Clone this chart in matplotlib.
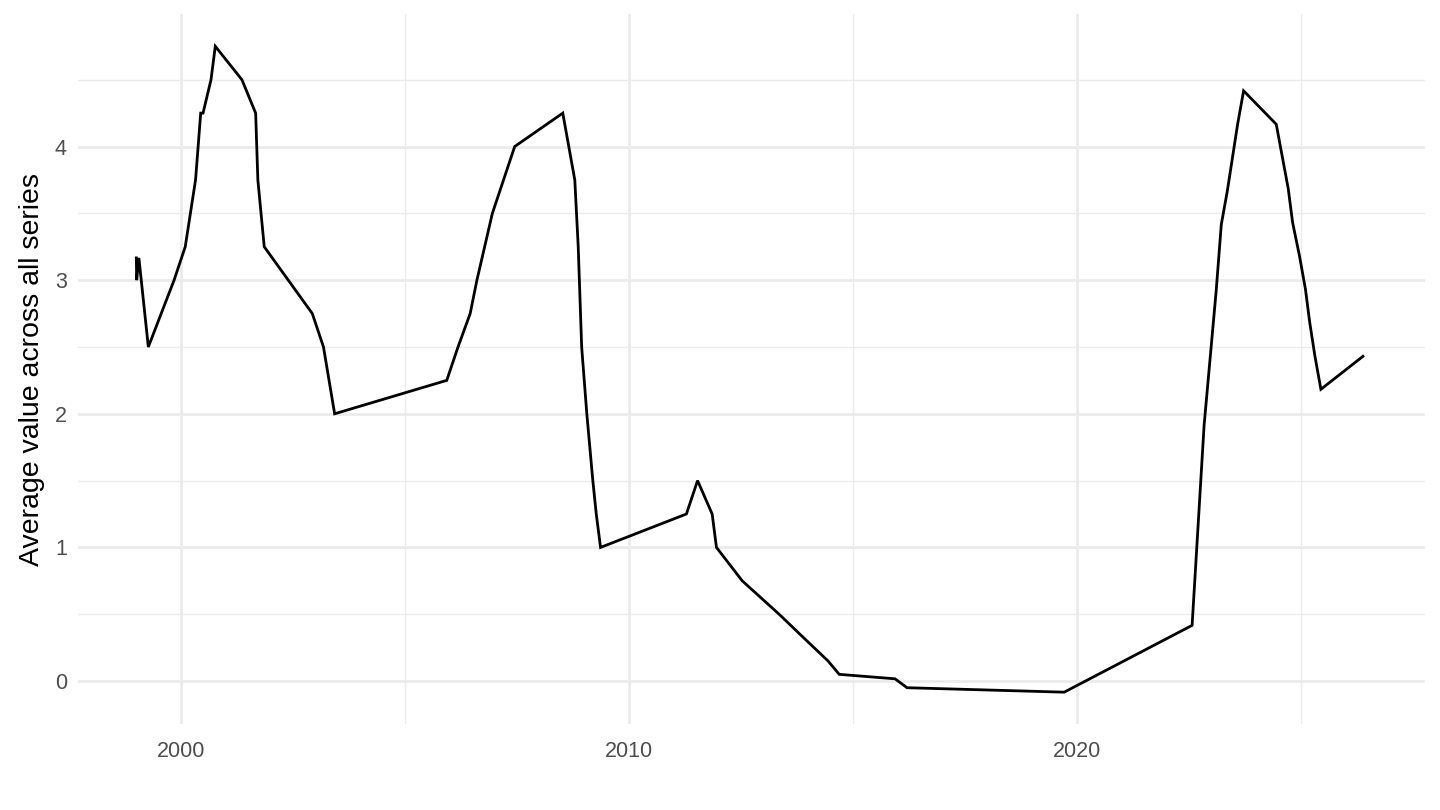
import matplotlib
matplotlib.use("Agg")
import matplotlib.pyplot as plt
import matplotlib.dates as mdates
from matplotlib.ticker import MultipleLocator
import pandas as pd

plt.rcParams["font.family"] = ["Liberation Sans", "DejaVu Sans"]

dates = [
    "1999-01-01", "1999-01-04", "1999-01-22", "1999-04-09", "1999-11-05",
    "2000-02-04", "2000-03-17", "2000-04-28", "2000-06-09", "2000-06-28",
    "2000-09-01", "2000-10-06", "2001-05-11", "2001-08-31", "2001-09-18",
    "2001-11-09", "2002-12-06", "2003-03-07", "2003-06-06", "2005-12-06",
    "2006-03-08", "2006-06-15", "2006-08-09", "2006-10-11", "2006-12-13",
    "2007-03-14", "2007-06-13", "2008-07-09", "2008-10-15",
    "2008-11-12", "2008-12-10", "2009-01-21", "2009-03-11", "2009-04-08",
    "2009-05-13", "2011-04-13", "2011-07-13", "2011-11-09", "2011-12-14",
    "2012-07-11", "2013-05-08", "2013-11-13", "2014-06-11", "2014-09-10",
    "2015-12-09", "2016-03-16", "2019-09-18", "2022-07-27", "2022-09-14",
    "2022-11-02", "2022-12-21", "2023-02-08", "2023-03-22", "2023-05-10",
    "2023-06-21", "2023-08-02", "2023-09-20", "2024-06-12", "2024-09-18",
    "2024-10-23", "2024-12-18", "2025-02-05", "2025-03-12", "2025-04-23",
    "2025-06-11", "2026-05-20",
]
values = [
    3.1667, 3.0, 3.1667, 2.5, 3.0,
    3.25, 3.5, 3.75, 4.25, 4.25,
    4.5, 4.75, 4.5, 4.25, 3.75,
    3.25, 2.75, 2.5, 2.0, 2.25,
    2.5, 2.75, 3.0, 3.25, 3.5,
    3.75, 4.0, 4.25, 3.75,
    3.25, 2.5, 2.0, 1.5, 1.25,
    1.0, 1.25, 1.5, 1.25, 1.0,
    0.75, 0.5, 0.3333, 0.15, 0.05,
    0.0167, -0.05, -0.0833, 0.4167, 1.1667,
    1.9167, 2.4167, 2.9167, 3.4167, 3.6667,
    3.9167, 4.1667, 4.4167, 4.1667, 3.6833,
    3.4333, 3.1833, 2.9333, 2.6833, 2.4333,
    2.1833, 2.43,
]
y_label = "Average value across all series"

x = pd.to_datetime(dates)

fig = plt.figure(figsize=(14.4, 8.1), dpi=100)
ax = fig.add_axes([0.0542, 0.1056, 0.9354, 0.8771])

ax.plot(x, values, color="black", linewidth=2.0, solid_joinstyle="miter", zorder=3)

ax.set_xlim(pd.Timestamp("1997-09-13"), pd.Timestamp("2027-10-08"))
vmin, vmax = min(values), max(values)
vs = vmax - vmin
ax.set_ylim(vmin - vs * 0.05, vmax + vs * 0.05)

ax.xaxis.set_major_locator(mdates.YearLocator(10))
ax.xaxis.set_major_formatter(mdates.DateFormatter("%Y"))
minor_x = pd.to_datetime(["2005-01-01", "2015-01-01", "2025-01-01"])
ax.set_xticks(mdates.date2num(minor_x), minor=True)
ax.yaxis.set_major_locator(MultipleLocator(1))
ax.yaxis.set_minor_locator(MultipleLocator(0.5))

ax.grid(which="major", color="#EBEBEB", linewidth=2.0)
ax.grid(which="minor", color="#EBEBEB", linewidth=1.0)
ax.set_axisbelow(True)
for s in ax.spines.values():
    s.set_visible(False)
ax.tick_params(which="both", length=0)
ax.tick_params(axis="both", labelsize=15.5, labelcolor="#4D4D4D")
ax.tick_params(axis="x", pad=12)
ax.tick_params(axis="y", pad=8)
ax.set_ylabel(y_label, fontsize=20.5, color="black", labelpad=7)

fig.savefig("out.png", dpi=100, facecolor="white")
